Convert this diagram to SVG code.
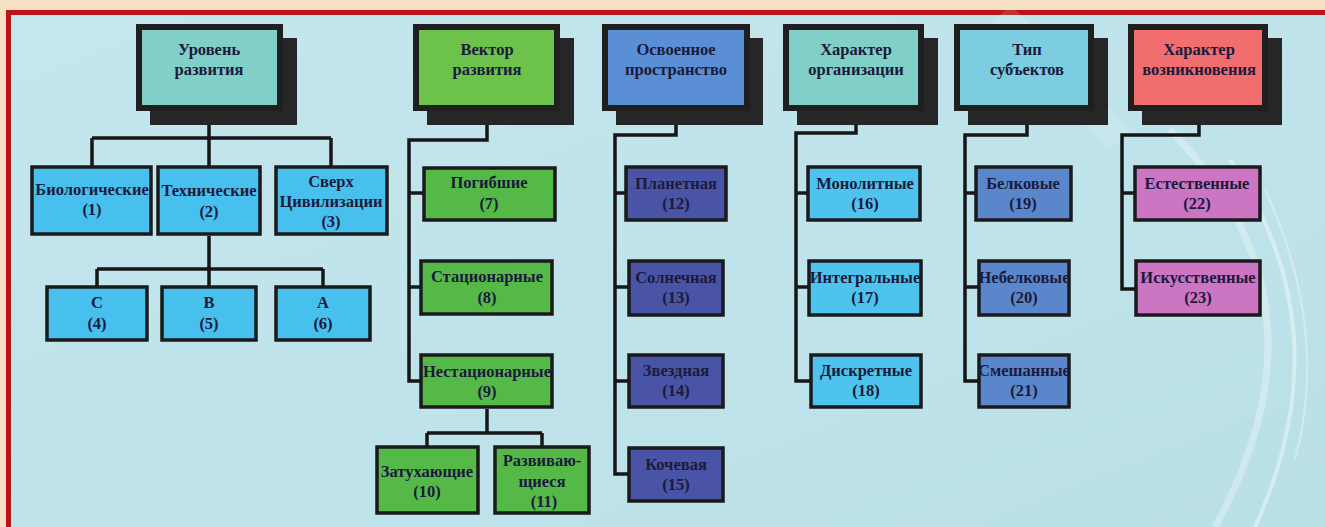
<svg xmlns="http://www.w3.org/2000/svg" width="1325" height="527" viewBox="0 0 1325 527">
<defs>
<linearGradient id="bg" x1="0" y1="0" x2="1" y2="1">
<stop offset="0" stop-color="#c4e6ee"/>
<stop offset="0.6" stop-color="#bfe3ea"/>
<stop offset="1" stop-color="#b9e0e6"/>
</linearGradient>
<style>
.sh{fill:#262626}
.fr{stroke:#1f1f1f;stroke-width:6}
.bx{stroke:#1a1a1a;stroke-width:3.5}
.t{font-family:"Liberation Serif","Times New Roman",serif;font-weight:bold;font-size:16.5px;fill:#1a1b3c;text-anchor:middle}
.ln{fill:none;stroke:#161616;stroke-width:3.5;stroke-linejoin:miter}
.h1{fill:#80d0c8}.h2{fill:#6dc24a}.h3{fill:#5a8fd6}.h4{fill:#80d0c8}.h5{fill:#7dcde0}.h6{fill:#f26d6d}
.cA{fill:#48c0ee}.cB{fill:#55b947}.cC{fill:#4a54a6}.cD{fill:#4dc3ee}.cE{fill:#5a86cb}.cF{fill:#cc75c2}
</style>
</defs>
<rect width="1325" height="527" fill="#f6dfc2"/>
<rect x="6" y="10" width="1319" height="517" fill="#b81419"/>
<rect x="11" y="15" width="1314" height="512" fill="url(#bg)"/>
<g fill="none" stroke="#ffffff">
<path d="M1170,130 Q1340,300 1215,527" stroke-width="7" opacity="0.3"/>
<path d="M1230,160 Q1345,330 1255,527" stroke-width="4" opacity="0.4"/>
<path d="M1265,190 Q1330,330 1295,460" stroke-width="2" opacity="0.35"/>
<path d="M1000,15 L1120,140" stroke-width="30" opacity="0.12"/>
</g>

<g id="connectors">
<path class="ln" d="M209,108 V138 M92,138 H331 M92,138 V166 M209,138 V166 M331,138 V166"/>
<path class="ln" d="M209,236 V269 M97,269 H323 M97,269 V286 M209,269 V286 M323,269 V286"/>
<path class="ln" d="M487,108 V140 H409 V381 H420 M409,193 H423 M409,287 H420"/>
<path class="ln" d="M487,409 V433 M427,433 H542 M427,433 V446 M542,433 V446"/>
<path class="ln" d="M676,108 V135 H615 V474 H628 M615,193 H625 M615,287 H628 M615,381 H628"/>
<path class="ln" d="M856,108 V133 H796 V381 H810 M796,193 H807 M796,287 H808"/>
<path class="ln" d="M1027,108 V135 H965 V381 H978 M965,193 H975 M965,287 H978"/>
<path class="ln" d="M1199,108 V135 H1122 V289 H1135 M1122,193 H1134"/>
</g>

<g id="h1">
<rect class="sh" x="150" y="38" width="147" height="87"/>
<rect class="fr h1" x="139" y="27" width="141" height="81"/>
<text class="t" x="209" y="55">Уровень</text>
<text class="t" x="209" y="75">развития</text>
</g>
<g id="h2">
<rect class="sh" x="427" y="38" width="147" height="87"/>
<rect class="fr h2" x="416" y="27" width="141" height="81"/>
<text class="t" x="487" y="55">Вектор</text>
<text class="t" x="487" y="75">развития</text>
</g>
<g id="h3">
<rect class="sh" x="616" y="38" width="147" height="87"/>
<rect class="fr h3" x="605" y="27" width="142" height="81"/>
<text class="t" x="676" y="55">Освоенное</text>
<text class="t" x="676" y="75">пространство</text>
</g>
<g id="h4">
<rect class="sh" x="797" y="38" width="141" height="87"/>
<rect class="fr h4" x="786" y="27" width="135" height="81"/>
<text class="t" x="856" y="55">Характер</text>
<text class="t" x="856" y="75">организации</text>
</g>
<g id="h5">
<rect class="sh" x="968" y="38" width="140" height="87"/>
<rect class="fr h5" x="957" y="27" width="134" height="81"/>
<text class="t" x="1027" y="55">Тип</text>
<text class="t" x="1027" y="75">субъектов</text>
</g>
<g id="h6">
<rect class="sh" x="1142" y="38" width="140" height="87"/>
<rect class="fr h6" x="1131" y="27" width="134" height="81"/>
<text class="t" x="1199" y="55">Характер</text>
<text class="t" x="1199" y="75">возникновения</text>
</g>

<g id="n1"><rect class="bx cA" x="32" y="167" width="119" height="67"/><text class="t" x="92" y="195">Биологические</text><text class="t" x="92" y="215">(1)</text></g>
<g id="n2"><rect class="bx cA" x="158" y="167" width="102" height="67"/><text class="t" x="209" y="196">Технические</text><text class="t" x="209" y="217">(2)</text></g>
<g id="n3"><rect class="bx cA" x="276" y="167" width="111" height="67"/><text class="t" x="331" y="187">Сверх</text><text class="t" x="331" y="207">Цивилизации</text><text class="t" x="331" y="227">(3)</text></g>
<g id="n4"><rect class="bx cA" x="47" y="287" width="100" height="53"/><text class="t" x="97" y="308">С</text><text class="t" x="97" y="329">(4)</text></g>
<g id="n5"><rect class="bx cA" x="162" y="287" width="94" height="53"/><text class="t" x="209" y="308">В</text><text class="t" x="209" y="329">(5)</text></g>
<g id="n6"><rect class="bx cA" x="276" y="287" width="94" height="53"/><text class="t" x="323" y="308">А</text><text class="t" x="323" y="329">(6)</text></g>

<g id="n7"><rect class="bx cB" x="424" y="168" width="131" height="52"/><text class="t" x="489" y="188">Погибшие</text><text class="t" x="489" y="209">(7)</text></g>
<g id="n8"><rect class="bx cB" x="421" y="261" width="131" height="53"/><text class="t" x="487" y="282">Стационарные</text><text class="t" x="487" y="303">(8)</text></g>
<g id="n9"><rect class="bx cB" x="421" y="355" width="131" height="52"/><text class="t" x="487" y="377">Нестационарные</text><text class="t" x="487" y="397">(9)</text></g>
<g id="n10"><rect class="bx cB" x="377" y="447" width="101" height="66"/><text class="t" x="427" y="477">Затухающие</text><text class="t" x="427" y="497">(10)</text></g>
<g id="n11"><rect class="bx cB" x="495" y="447" width="94" height="66"/><text class="t" x="542" y="466">Развиваю-</text><text class="t" x="542" y="487">щиеся</text><text class="t" x="544" y="507">(11)</text></g>

<g id="n12"><rect class="bx cC" x="626" y="167" width="100" height="53"/><text class="t" x="676" y="189">Планетная</text><text class="t" x="676" y="209">(12)</text></g>
<g id="n13"><rect class="bx cC" x="629" y="261" width="94" height="54"/><text class="t" x="676" y="283">Солнечная</text><text class="t" x="676" y="303">(13)</text></g>
<g id="n14"><rect class="bx cC" x="629" y="355" width="94" height="52"/><text class="t" x="676" y="376">Звездная</text><text class="t" x="676" y="396">(14)</text></g>
<g id="n15"><rect class="bx cC" x="629" y="448" width="94" height="53"/><text class="t" x="676" y="470">Кочевая</text><text class="t" x="676" y="490">(15)</text></g>

<g id="n16"><rect class="bx cD" x="808" y="167" width="112" height="53"/><text class="t" x="865" y="189">Монолитные</text><text class="t" x="865" y="209">(16)</text></g>
<g id="n17"><rect class="bx cD" x="809" y="261" width="112" height="54"/><text class="t" x="865" y="283">Интегральные</text><text class="t" x="865" y="303">(17)</text></g>
<g id="n18"><rect class="bx cD" x="811" y="355" width="110" height="52"/><text class="t" x="866" y="376">Дискретные</text><text class="t" x="866" y="396">(18)</text></g>

<g id="n19"><rect class="bx cE" x="976" y="167" width="95" height="53"/><text class="t" x="1023" y="189">Белковые</text><text class="t" x="1023" y="209">(19)</text></g>
<g id="n20"><rect class="bx cE" x="979" y="261" width="90" height="54"/><text class="t" x="1024" y="283">Небелковые</text><text class="t" x="1024" y="303">(20)</text></g>
<g id="n21"><rect class="bx cE" x="979" y="355" width="90" height="52"/><text class="t" x="1024" y="376">Смешанные</text><text class="t" x="1024" y="396">(21)</text></g>

<g id="n22"><rect class="bx cF" x="1135" y="167" width="125" height="53"/><text class="t" x="1197" y="189">Естественные</text><text class="t" x="1197" y="209">(22)</text></g>
<g id="n23"><rect class="bx cF" x="1136" y="261" width="124" height="54"/><text class="t" x="1198" y="283">Искусственные</text><text class="t" x="1198" y="303">(23)</text></g>
</svg>
